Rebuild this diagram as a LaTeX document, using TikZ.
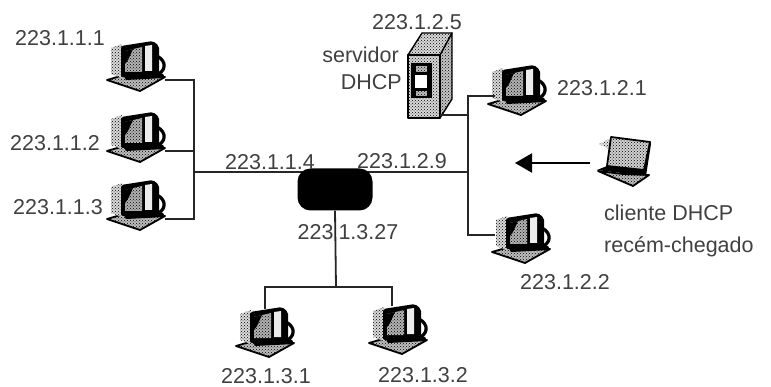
\documentclass[tikz,border=0pt]{standalone}
\usepackage{fontspec}
\setmainfont{Liberation Sans}
\usetikzlibrary{shapes.geometric,arrows.meta,patterns}
\tikzset{
  wire/.style={line width=1.8pt,black!85},
  addr/.style={inner sep=0pt,font=\fontsize{21.5}{25}\selectfont,text=black!75},
  dots1/.style={preaction={fill=gray!#1},pattern=crosshatch dots,pattern color=black},
  dots1/.default=45,
  hostpc/.pic={
    \path[dots1=50,draw=black,line width=1.8pt,line join=round] (-29,14) -- (-12,9) -- (29,11) -- (4,25) -- cycle;
    \fill[black] (-14,7) -- (27,8) -- (29,12) -- (-10,14) -- cycle;
    \path[dots1=30] (-25,-18) -- (-14,-22) -- (-14,12) -- (-25,8) -- cycle;
    \draw[black,line width=3.2pt] (21,-10) .. controls (31,-5) and (31,6) .. (18,10);
    \fill[black,rounded corners=2pt] (-15,-20) -- (17,-25) -- (23,-20) -- (23,8) -- (-15,11) -- cycle;
    \path[dots1=60] (-11,-15) -- (6,-19) -- (6,6) -- (-11,6) -- cycle;
    \fill[gray!15] (9,-20) -- (16,-21) -- (16,5) -- (9,5) -- cycle;
    \fill[black] (-11,-15) -- (-3,-17) -- (-8,-6) -- (-11,-2) -- cycle;
  },
  laptopc/.pic={
    \path[dots1=20] (-14,-24) -- (-26,-18) -- (-14,-12) -- cycle;
    \path[dots1=35,draw=black,line width=1.8pt,line join=round] (-14,-25) -- (25,-20) -- (19,8) -- (-18,4) -- cycle;
    \fill[black] (-18,4) -- (19,8) -- (25,-20) -- (26,-18) -- (21,14) -- (-28,8) -- cycle;
    \path[dots1=50,draw=black,line width=1.8pt,line join=round] (-27,9) -- (-2,12) -- (24,13) -- (8,24) -- cycle;
  },
  serverpc/.pic={
    \path[dots1=30,draw=black,line width=1.4pt,line join=round] (0,22) -- (14,0) -- (44,0) -- (34,22) -- cycle;
    \path[dots1=45,draw=black,line width=1.4pt,line join=round] (32,22) -- (44,0) -- (44,66) -- (32,85) -- cycle;
    \path[dots1=30,draw=black,line width=1.8pt,line join=round] (0,22) rectangle (32,85);
    \fill[black] (3,30) rectangle (24,65);
    \fill[white] (7,42) rectangle (19,55);
    \path[dots1=50] (8,33) rectangle (19,39);
    \path[dots1=50] (8,58) rectangle (19,63);
  }
}
\begin{document}
\begin{tikzpicture}[x=1pt,y=-1pt]
\useasboundingbox (0,0) rectangle (771,387);
% icons
\pic at (136,66) {hostpc};
\pic at (136,137) {hostpc};
\pic at (136,205) {hostpc};
\pic at (517,90) {hostpc};
\pic at (521,238) {hostpc};
\pic at (265,332) {hostpc};
\pic at (398,329) {hostpc};
\pic at (408,33) {serverpc};
\pic at (625,162) {laptopc};
% connection points
\coordinate (h111) at (165,80);
\coordinate (h112) at (165,151);
\coordinate (h113) at (165,219);
\coordinate (leftbus) at (194,172);
\coordinate (leftTop) at (194,80);
\coordinate (leftBot) at (194,219);
\coordinate (rightbus) at (468,172);
\coordinate (rightTop) at (468,96);
\coordinate (rightBot) at (468,235);
\coordinate (h121) at (495,96);
\coordinate (h122) at (495,235);
\coordinate (srv) at (440,115);
\coordinate (srvj) at (468,115);
\coordinate (botj) at (336,287);
\coordinate (h131t) at (265,287);
\coordinate (h132t) at (392,287);
\coordinate (h131) at (265,309);
\coordinate (h132) at (392,306);
\coordinate (arrS) at (590,163);
\coordinate (arrE) at (515,163);
% wires
\draw[wire] (h111) -- (leftTop) -- (leftBot) -- (h113);
\draw[wire] (h112) -- (194,151);
\draw[wire] (leftbus) -- (rightbus);
\draw[wire] (h121) -- (rightTop) -- (rightBot) -- (h122);
\draw[wire] (srv) -- (srvj);
\draw[wire] (h131) -- (h131t) -- (h132t) -- (h132);
% router
\node[fill=black,rounded corners=13pt,minimum width=75pt,minimum height=42pt,inner sep=0pt] (router) at (335,189.5) {};
\draw[wire] (router.south) -- (botj);
% arrow
\draw[black,line width=2.2pt,-{Triangle[length=17pt,width=19pt]}] (arrS) -- (arrE);
% labels
\node[addr] (l111) at (60,38) {223.1.1.1};
\node[addr] (l112) at (55,143) {223.1.1.2};
\node[addr] (l113) at (58,207) {223.1.1.3};
\node[addr] (l114) at (270,162) {223.1.1.4};
\node[addr] (l129) at (402,161) {223.1.2.9};
\node[addr] (l1327) at (348,232) {223\hspace{5pt}1.3.27};
\node[addr] (l125) at (417,22) {223.1.2.5};
\node[addr,anchor=east] (lsv) at (399,55) {servidor};
\node[addr,anchor=east] (ldh) at (402,82) {DHCP};
\node[addr] (l121) at (602,88) {223.1.2.1};
\node[addr] (l122) at (565,282) {223.1.2.2};
\node[addr,anchor=west] (lc1) at (604,213) {cliente DHCP};
\node[addr,anchor=west] (lc2) at (604,247) {recém-chegado};
\node[addr] (l131) at (266,376.5) {223.1.3.1};
\node[addr] (l132) at (423,375) {223.1.3.2};
\end{tikzpicture}
\end{document}
